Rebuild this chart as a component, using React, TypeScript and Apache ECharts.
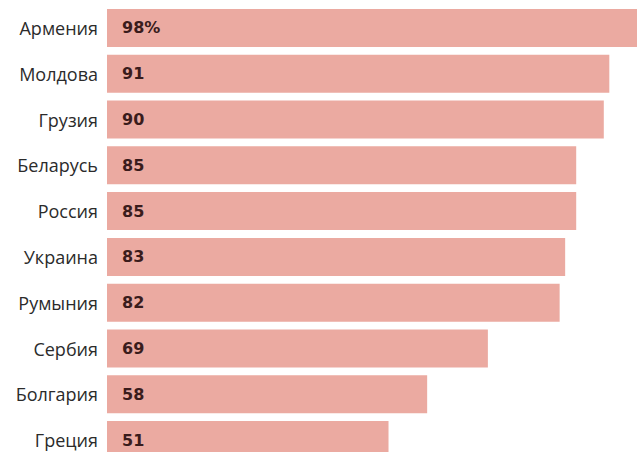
import React, { useEffect, useRef } from "react";
import * as echarts from "echarts";

const categories = ["Армения", "Молдова", "Грузия", "Беларусь", "Россия", "Украина", "Румыния", "Сербия", "Болгария", "Греция"];
const values = [98, 91, 90, 85, 85, 83, 82, 69, 58, 51];

export default function App() {
  const ref = useRef<HTMLDivElement>(null);
  useEffect(() => {
    const chart = echarts.init(ref.current!, null, { renderer: "svg" });
    chart.setOption({
      animation: false,
      grid: { left: 107, top: 5, right: 21, bottom: 17, containLabel: false, outerBoundsMode: "none" },
      xAxis: { type: "value", min: 0, max: 100, show: false },
      yAxis: {
        type: "category",
        inverse: true,
        data: categories,
        axisLine: { show: false },
        axisTick: { show: false },
        axisLabel: { color: "#2b2b2b", fontSize: 18, fontFamily: "Open Sans", margin: 9 },
      },
      series: [
        {
          type: "bar",
          data: values,
          barWidth: 38,
          itemStyle: { color: "#EBAAA1" },
          label: {
            show: true,
            position: "insideLeft",
            distance: 15,
            color: "#3a1c1c",
            fontWeight: "bold",
            fontSize: 16,
            fontFamily: "DejaVu Sans",
            formatter: (p: any) => (p.dataIndex === 0 ? p.value + "%" : String(p.value)),
          },
        },
      ],
    });
    return () => chart.dispose();
  }, []);
  return <div ref={ref} style={{ position: "fixed", left: 0, top: 0, width: 680, height: 480, background: "#fff" }} />;
}
